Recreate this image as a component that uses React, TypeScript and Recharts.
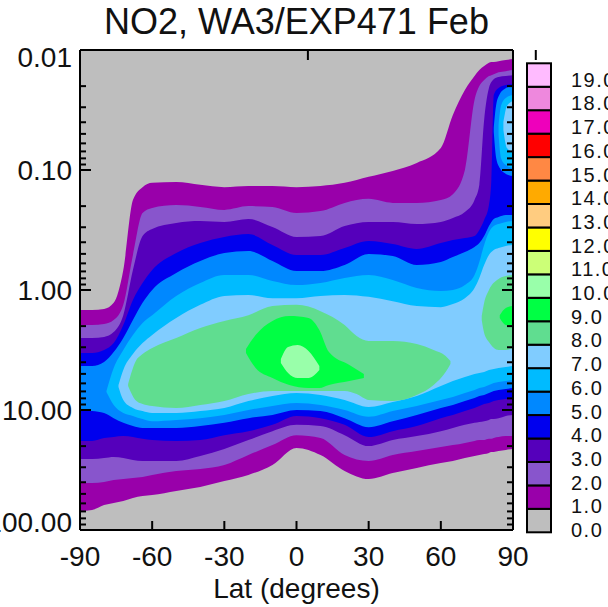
import React from 'react';
import { ComposedChart, Area, XAxis, YAxis, CartesianGrid } from 'recharts';

const FONT = '"Liberation Sans", Arial, Helvetica, sans-serif';

// Contour level colours (level 0 .. 19)
const LEVEL_COLORS = [
  '#bebebe', '#9900aa', '#8855cc', '#5500bb', '#0000ee', '#0088ff', '#00bbff', '#80ccff',
  '#60dd90', '#00ff44', '#99ffaa', '#ccff77', '#ffff00', '#ffcc80', '#ffaa00', '#ff8844',
  '#ff0000', '#ee00bb', '#ee88dd', '#ffbbff',
];
const LEVEL_LABELS = [
  '0.0', '1.0', '2.0', '3.0', '4.0', '5.0', '6.0', '7.0', '8.0', '9.0',
  '10.0', '11.0', '12.0', '13.0', '14.0', '15.0', '16.0', '17.0', '18.0', '19.0',
];

const LAT_TICKS = [-90, -60, -30, 0, 30, 60, 90];
const P_MAJOR = [0.01, 0.1, 1, 10, 100];
const P_MAJOR_LABELS = ['0.01', '0.10', '1.00', '10.00', '100.00'];
const P_MINOR = [
  0.02, 0.03, 0.04, 0.05, 0.06, 0.07, 0.08, 0.09,
  0.2, 0.3, 0.4, 0.5, 0.6, 0.7, 0.8, 0.9,
  2, 3, 4, 5, 6, 7, 8, 9,
  20, 30, 40, 50, 60, 70, 80, 90,
];
const P_TICKS = [...P_MAJOR, ...P_MINOR].sort((a, b) => a - b);

// Latitudes for the full-width contour bands (levels 1-5)
const LAT_MAIN = [-90, -85, -80, -76, -72, -68, -64, -60, -50, -40, -30, -20, -10, 0, 10, 20, 30, 40, 50, 60, 65, 70, 74, 76, 78, 80, 81, 82, 84, 87, 90];

// Level >= 1 (pressure, hPa): upper and lower boundary
const L1_TOP = [1.47, 1.47, 1.44, 1.28, 0.681, 0.178, 0.139, 0.128, 0.126, 0.133, 0.139, 0.136, 0.136, 0.139, 0.136, 0.128, 0.114, 0.102, 0.0874, 0.0656, 0.0348, 0.0215, 0.0165, 0.0147, 0.0136, 0.0128, 0.0126, 0.0126, 0.0124, 0.0121, 0.0119];
const L1_BOT = [69.5, 68.1, 61.9, 59.6, 57.3, 54.1, 52.1, 51.1, 47.3, 43.8, 39.1, 34.8, 28.7, 20.7, 23.7, 32.2, 37.6, 33.5, 30.4, 27.7, 26.6, 25.1, 24.2, 23.7, 23.3, 22.8, 22.4, 22.4, 22.0, 21.5, 21.1];
// Level >= 2
const L2_TOP = [1.96, 1.96, 1.92, 1.78, 1.33, 0.511, 0.228, 0.207, 0.196, 0.203, 0.215, 0.2, 0.203, 0.228, 0.22, 0.188, 0.174, 0.188, 0.188, 0.178, 0.159, 0.1, 0.0261, 0.02, 0.0178, 0.0165, 0.0162, 0.0159, 0.0153, 0.015, 0.0147];
const L2_BOT = [40.6, 40.6, 39.8, 38.3, 37.6, 36.9, 36.2, 34.8, 32.2, 31.0, 28.7, 23.7, 19.6, 16.2, 17.1, 23.7, 26.6, 23.7, 22.0, 20.3, 19.6, 18.8, 18.1, 17.8, 17.8, 17.4, 17.4, 17.1, 16.8, 16.5, 16.5];
// Level >= 3
const L3_TOP = [2.51, 2.51, 2.46, 2.24, 1.62, 0.681, 0.355, 0.31, 0.276, 0.266, 0.271, 0.256, 0.299, 0.362, 0.355, 0.293, 0.271, 0.271, 0.282, 0.271, 0.251, 0.224, 0.178, 0.133, 0.0383, 0.0207, 0.0185, 0.0175, 0.0168, 0.0165, 0.0162];
const L3_BOT = [25.6, 25.6, 25.1, 24.6, 25.1, 26.1, 26.6, 26.6, 26.6, 24.2, 21.1, 17.8, 15.0, 13.3, 13.6, 16.2, 20.0, 17.8, 16.5, 15.0, 14.1, 13.3, 12.8, 12.6, 12.4, 12.1, 11.9, 11.9, 11.7, 11.2, 11.0];
// Level >= 4
const L4_TOP = [3.35, 3.35, 3.16, 2.77, 1.96, 1.21, 0.874, 0.681, 0.492, 0.406, 0.362, 0.342, 0.422, 0.511, 0.511, 0.447, 0.391, 0.414, 0.455, 0.406, 0.383, 0.369, 0.355, 0.316, 0.261, 0.196, 0.121, 0.0237, 0.0207, 0.0196, 0.0192];
const L4_BOT = [18.1, 18.1, 17.1, 16.8, 16.5, 16.8, 17.4, 17.8, 18.1, 17.8, 16.2, 15.0, 13.3, 11.2, 11.7, 13.3, 16.8, 15.0, 13.6, 11.7, 11.0, 10.2, 9.62, 9.26, 8.91, 8.75, 8.58, 8.42, 8.25, 8.1, 7.94];
// Level >= 5 (main band)
const L5_TOP = [4.3, 4.3, 3.98, 3.29, 2.51, 1.78, 1.28, 1.0, 0.722, 0.573, 0.492, 0.473, 0.573, 0.695, 0.695, 0.619, 0.501, 0.521, 0.619, 0.584, 0.531, 0.483, 0.438, 0.406, 0.355, 0.293, 0.271, 0.256, 0.246, 0.237, 0.237];
const L5_BOT = [10.0, 10.2, 10.6, 11.7, 12.8, 13.6, 14.1, 14.1, 14.1, 13.6, 12.8, 11.7, 11.0, 10.0, 10.2, 11.7, 13.9, 12.4, 11.0, 9.62, 9.09, 8.42, 7.94, 7.64, 7.5, 7.22, 7.08, 6.95, 6.81, 6.68, 6.56];

// Level >= 6 (main band)
const L6_LAT = [-79, -76, -72, -68, -64, -60, -50, -40, -30, -20, -10, 0, 10, 20, 30, 40, 50, 60, 65, 70, 74, 76, 78, 80, 82, 84, 87, 90];
const L6_TOP = [6.95, 4.47, 3.16, 2.37, 1.88, 1.62, 1.12, 0.874, 0.75, 0.75, 0.841, 0.909, 0.874, 0.794, 0.75, 0.825, 0.962, 1.02, 1.0, 0.909, 0.75, 0.584, 0.422, 0.329, 0.293, 0.282, 0.271, 0.266];
const L6_BOT = [7.08, 9.09, 10.6, 11.2, 11.9, 12.4, 12.1, 11.7, 11.0, 10.0, 9.26, 8.75, 9.09, 10.0, 11.4, 10.2, 9.26, 8.25, 7.79, 7.22, 6.81, 6.56, 6.43, 6.19, 5.96, 5.84, 5.73, 5.62];

// Level >= 7 (main band)
const L7_LAT = [-74, -72, -68, -64, -60, -50, -40, -30, -20, -10, 0, 10, 20, 30, 40, 50, 60, 65, 70, 74, 76, 78, 80, 82, 84, 87, 90];
const L7_TOP = [6.19, 4.64, 3.42, 2.77, 2.37, 1.71, 1.33, 1.12, 1.1, 1.17, 1.17, 1.12, 1.1, 1.14, 1.24, 1.36, 1.39, 1.31, 1.17, 0.962, 0.794, 0.619, 0.511, 0.464, 0.447, 0.43, 0.422];
const L7_BOT = [6.43, 8.25, 9.62, 10.2, 10.6, 10.6, 10.2, 9.62, 8.42, 7.64, 7.22, 7.5, 8.25, 9.44, 8.58, 7.64, 6.31, 5.73, 5.31, 5.01, 4.92, 4.83, 4.64, 4.55, 4.47, 4.38, 4.3];

// Level >= 8 (main blob and polar blob)
const L8_LAT = [-70, -67, -64, -60, -50, -40, -30, -20, -10, 0, 10, 20, 25, 30, 40, 50, 57, 62, 64];
const L8_TOP = [6.07, 3.98, 3.42, 3.04, 2.51, 2.07, 1.81, 1.62, 1.36, 1.33, 1.5, 1.96, 2.42, 2.66, 2.66, 2.82, 3.16, 3.55, 3.91];
const L8_BOT = [6.31, 8.25, 8.91, 9.26, 9.62, 9.09, 8.42, 7.36, 6.95, 6.95, 6.95, 6.95, 7.36, 8.25, 8.42, 7.5, 6.19, 4.83, 4.14];
const L8R_LAT = [77, 78, 80, 84, 87, 90];
const L8R_TOP = [1.65, 1.28, 1.0, 0.81, 0.765, 0.75];
const L8R_BOT = [1.78, 2.28, 2.71, 3.16, 3.16, 3.04];

// Level >= 9
const L9_LAT = [-21, -17, -10, -3, 5, 9.5, 13.5, 22, 28];
const L9_TOP = [3.1, 2.37, 1.81, 1.65, 1.71, 2.15, 3.29, 4.22, 5.01];
const L9_BOT = [3.35, 4.47, 5.41, 6.19, 6.56, 6.56, 6.19, 5.73, 5.41];
const L9R_LAT = [84.5, 87, 90];
const L9R_TOP = [1.62, 1.41, 1.36];
const L9R_BOT = [1.71, 1.96, 2.0];

// Level >= 10
const L10_LAT = [-6.5, -3.5, 0.5, 5, 9.5];
const L10_TOP = [3.76, 2.99, 2.87, 3.22, 4.3];
const L10_BOT = [4.06, 4.92, 5.41, 5.41, 4.64];

// Upper-mesosphere island near the North Pole (levels 5-7)
const L5I_LAT = [82, 83, 84.5, 86.5, 88, 90];
const L5I_TOP = [0.0447, 0.0287, 0.0233, 0.0211, 0.0203, 0.02];
const L5I_BOT = [0.0483, 0.0794, 0.0962, 0.106, 0.11, 0.112];
const L6I_LAT = [84, 85, 87, 90];
const L6I_TOP = [0.0422, 0.0293, 0.0251, 0.0237];
const L6I_BOT = [0.0511, 0.0794, 0.0909, 0.0962];
const L7I_LAT = [86, 87.5, 90];
const L7I_TOP = [0.0398, 0.0293, 0.0266];
const L7I_BOT = [0.0464, 0.0656, 0.0708];

type Series = { key: string; level: number; lat: number[]; top: number[]; bot: number[] };

const SERIES: Series[] = [
  { key: 'l1', level: 1, lat: LAT_MAIN, top: L1_TOP, bot: L1_BOT },
  { key: 'l2', level: 2, lat: LAT_MAIN, top: L2_TOP, bot: L2_BOT },
  { key: 'l3', level: 3, lat: LAT_MAIN, top: L3_TOP, bot: L3_BOT },
  { key: 'l4', level: 4, lat: LAT_MAIN, top: L4_TOP, bot: L4_BOT },
  { key: 'l5', level: 5, lat: LAT_MAIN, top: L5_TOP, bot: L5_BOT },
  { key: 'l5i', level: 5, lat: L5I_LAT, top: L5I_TOP, bot: L5I_BOT },
  { key: 'l6', level: 6, lat: L6_LAT, top: L6_TOP, bot: L6_BOT },
  { key: 'l6i', level: 6, lat: L6I_LAT, top: L6I_TOP, bot: L6I_BOT },
  { key: 'l7', level: 7, lat: L7_LAT, top: L7_TOP, bot: L7_BOT },
  { key: 'l7i', level: 7, lat: L7I_LAT, top: L7I_TOP, bot: L7I_BOT },
  { key: 'l8', level: 8, lat: L8_LAT, top: L8_TOP, bot: L8_BOT },
  { key: 'l8r', level: 8, lat: L8R_LAT, top: L8R_TOP, bot: L8R_BOT },
  { key: 'l9', level: 9, lat: L9_LAT, top: L9_TOP, bot: L9_BOT },
  { key: 'l9r', level: 9, lat: L9R_LAT, top: L9R_TOP, bot: L9R_BOT },
  { key: 'l10', level: 10, lat: L10_LAT, top: L10_TOP, bot: L10_BOT },
];

const ALL_LATS = Array.from(new Set(SERIES.flatMap((s) => s.lat))).sort((a, b) => a - b);
const ROWS = ALL_LATS.map((lat) => {
  const row: Record<string, any> = { lat };
  SERIES.forEach((s) => {
    const i = s.lat.indexOf(lat);
    if (i >= 0) row[s.key] = [s.bot[i], s.top[i]];
  });
  return row;
});

const TICK_MARGIN = 8;

function PTick(props: any) {
  const { x, y, payload, side } = props;
  const v = payload?.value;
  const mi = P_MAJOR.indexOf(v);
  const major = mi >= 0;
  const len = major ? 11 : 6;
  const edge = side === 'left' ? x + TICK_MARGIN : x - TICK_MARGIN;
  const x2 = side === 'left' ? edge + len : edge - len;
  let dy = 10;
  if (mi === 0) dy += 7;
  if (mi === P_MAJOR.length - 1) dy -= 8;
  return (
    <g>
      <line x1={edge} y1={y} x2={x2} y2={y} stroke="#000" strokeWidth={2} />
      {side === 'left' && major ? (
        <text x={x} y={y} dy={dy} textAnchor="end" fontSize={28} fill="#111" fontFamily={FONT}>
          {P_MAJOR_LABELS[mi]}
        </text>
      ) : null}
    </g>
  );
}

const BAR_X = 527;
const BAR_W = 24;
const BAR_TOP = 63.3;
const BAR_H = 23.45;
const LABEL_STEP = 23.7;

export default function App() {
  const n = LEVEL_COLORS.length;
  return (
    <div style={{ position: 'absolute', left: 0, top: 0, width: 608, height: 607, background: '#fff', overflow: 'hidden' }}>
      <ComposedChart width={608} height={607} data={ROWS} margin={{ top: 49, right: 94, bottom: 37, left: 0 }}>
        <CartesianGrid xAxisId="b" yAxisId="l" fill="#bebebe" fillOpacity={1} stroke="none" horizontal={false} vertical={false} />
        <XAxis
          xAxisId="b"
          dataKey="lat"
          type="number"
          domain={[-90, 90]}
          allowDataOverflow
          ticks={LAT_TICKS}
          interval={0}
          orientation="bottom"
          height={40}
          tickSize={-9}
          tickMargin={25}
          axisLine={{ stroke: '#000', strokeWidth: 2 }}
          tickLine={{ stroke: '#000', strokeWidth: 2 }}
          tick={{ fontSize: 28, fill: '#111', fontFamily: FONT }}
        />
        <XAxis
          xAxisId="t"
          type="number"
          domain={[-90, 90]}
          allowDataOverflow
          ticks={LAT_TICKS}
          interval={0}
          orientation="top"
          height={1}
          tickSize={-10}
          tickFormatter={() => ''}
          axisLine={{ stroke: '#000', strokeWidth: 2 }}
          tickLine={{ stroke: '#000', strokeWidth: 2 }}
        />
        <YAxis
          yAxisId="l"
          type="number"
          scale="log"
          domain={[0.01, 100]}
          allowDataOverflow
          reversed
          ticks={P_TICKS}
          interval={0}
          width={80}
          tickSize={0}
          tickMargin={TICK_MARGIN}
          tickLine={false}
          axisLine={{ stroke: '#000', strokeWidth: 2 }}
          tick={(p: any) => <PTick {...p} side="left" />}
        />
        <YAxis
          yAxisId="r"
          orientation="right"
          type="number"
          scale="log"
          domain={[0.01, 100]}
          allowDataOverflow
          reversed
          ticks={P_TICKS}
          interval={0}
          width={1}
          tickSize={0}
          tickMargin={TICK_MARGIN}
          tickLine={false}
          axisLine={{ stroke: '#000', strokeWidth: 2 }}
          tick={(p: any) => <PTick {...p} side="right" />}
        />
        {SERIES.map((s) => (
          <Area
            key={s.key}
            xAxisId="b"
            yAxisId="l"
            dataKey={s.key}
            type="monotone"
            fill={LEVEL_COLORS[s.level]}
            fillOpacity={1}
            stroke="none"
            connectNulls
            dot={false}
            activeDot={false}
            isAnimationActive={false}
          />
        ))}
      </ComposedChart>
      <svg width={608} height={607} style={{ position: 'absolute', left: 0, top: 0, pointerEvents: 'none' }}>
        <text x={296.5} y={34} textAnchor="middle" fontSize={36} fill="#111" fontFamily={FONT}>
          NO2, WA3/EXP471 Feb
        </text>
        <text x={296.5} y={598} textAnchor="middle" fontSize={28} fill="#111" fontFamily={FONT}>
          Lat (degrees)
        </text>
        {LEVEL_COLORS.map((c, k) => {
          const i = n - 1 - k;
          return (
            <g key={k}>
              <rect x={BAR_X} y={BAR_TOP + i * BAR_H} width={BAR_W} height={BAR_H} fill={c} stroke="#000" strokeWidth={2} />
              <text x={571} y={BAR_TOP + BAR_H + i * LABEL_STEP} fontSize={20} letterSpacing={1.5} fill="#111" fontFamily={FONT}>
                {LEVEL_LABELS[k]}
              </text>
            </g>
          );
        })}
      </svg>
    </div>
  );
}
